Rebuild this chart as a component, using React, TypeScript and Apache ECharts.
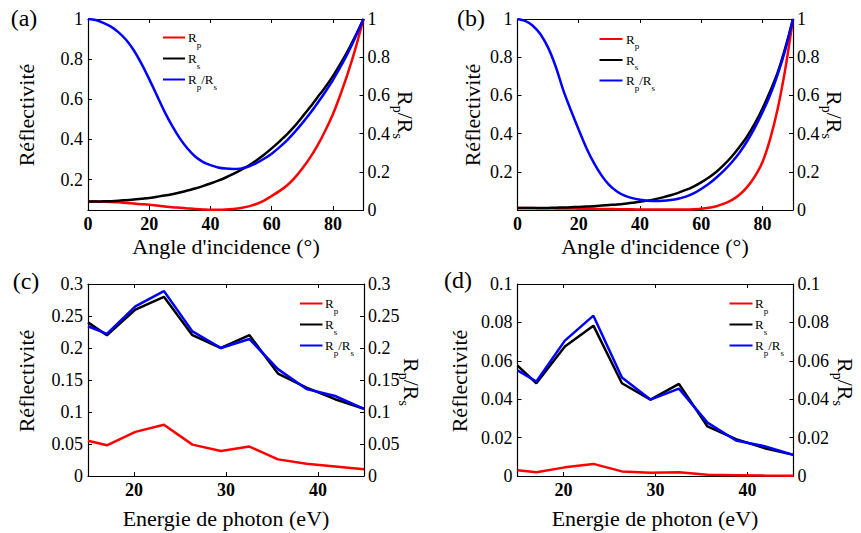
import React, { useEffect, useRef } from 'react';
import * as echarts from 'echarts';

// ---------- data ----------
const angles = [0, 2.5, 5, 7.5, 10, 12.5, 15, 17.5, 20, 22.5, 25, 27.5, 30, 32.5, 35, 37.5, 40, 42.5, 45, 47.5, 50, 52.5, 55, 57.5, 60, 62.5, 65, 67.5, 70, 72.5, 75, 77.5, 80, 82.5, 85, 87.5, 90];
// panel (a)
const rpA = [0.09, 0.09, 0.089, 0.088, 0.086, 0.083, 0.08, 0.077, 0.074, 0.07, 0.066, 0.062, 0.059, 0.056, 0.053, 0.051, 0.049, 0.049, 0.05, 0.053, 0.058, 0.066, 0.078, 0.095, 0.118, 0.142, 0.17, 0.208, 0.255, 0.308, 0.37, 0.443, 0.525, 0.625, 0.735, 0.86, 1.0];
const rsA = [0.09, 0.09, 0.091, 0.092, 0.094, 0.097, 0.1, 0.104, 0.108, 0.114, 0.12, 0.127, 0.135, 0.145, 0.155, 0.167, 0.18, 0.194, 0.21, 0.228, 0.248, 0.27, 0.295, 0.323, 0.355, 0.389, 0.425, 0.466, 0.512, 0.56, 0.61, 0.66, 0.715, 0.777, 0.845, 0.92, 1.0];
const ratioA = [1.0, 0.995, 0.98, 0.96, 0.93, 0.89, 0.835, 0.765, 0.685, 0.6, 0.515, 0.44, 0.375, 0.322, 0.28, 0.252, 0.235, 0.223, 0.217, 0.215, 0.218, 0.228, 0.245, 0.268, 0.295, 0.328, 0.365, 0.408, 0.455, 0.505, 0.56, 0.618, 0.68, 0.75, 0.825, 0.91, 1.0];
// panel (b)
const rpB = [0.01, 0.01, 0.01, 0.0095, 0.009, 0.0085, 0.008, 0.0075, 0.007, 0.0065, 0.006, 0.0055, 0.005, 0.0045, 0.004, 0.0035, 0.003, 0.0025, 0.002, 0.002, 0.002, 0.0025, 0.003, 0.0045, 0.007, 0.012, 0.02, 0.033, 0.052, 0.08, 0.12, 0.175, 0.25, 0.37, 0.53, 0.74, 1.0];
const rsB = [0.01, 0.01, 0.01, 0.0105, 0.011, 0.012, 0.013, 0.0145, 0.016, 0.018, 0.02, 0.023, 0.026, 0.029, 0.033, 0.038, 0.043, 0.049, 0.057, 0.066, 0.077, 0.09, 0.105, 0.123, 0.145, 0.17, 0.2, 0.237, 0.28, 0.33, 0.385, 0.452, 0.53, 0.62, 0.72, 0.85, 1.0];
const ratioB = [1.0, 0.99, 0.965, 0.92, 0.85, 0.75, 0.625, 0.52, 0.42, 0.325, 0.245, 0.18, 0.13, 0.097, 0.075, 0.062, 0.054, 0.049, 0.047, 0.048, 0.052, 0.059, 0.07, 0.087, 0.11, 0.137, 0.17, 0.207, 0.25, 0.3, 0.36, 0.43, 0.51, 0.6, 0.71, 0.84, 1.0];
// panels (c) and (d)
const energies = [15, 17.05, 20.15, 23.25, 26.35, 29.45, 32.55, 35.65, 38.75, 41.85, 45];
const rpC = [0.055, 0.048, 0.069, 0.08, 0.049, 0.039, 0.046, 0.026, 0.019, 0.015, 0.0105];
const rsC = [0.24, 0.22, 0.26, 0.28, 0.22, 0.2, 0.22, 0.16, 0.138, 0.12, 0.105];
const ratioC = [0.234, 0.222, 0.265, 0.289, 0.226, 0.2, 0.214, 0.167, 0.136, 0.125, 0.105];
const rpD = [0.003, 0.002, 0.0045, 0.0063, 0.0024, 0.0017, 0.0019, 0.0006, 0.0004, 0.0002, 0.0001];
const rsD = [0.0575, 0.0483, 0.0675, 0.0783, 0.0483, 0.0398, 0.048, 0.0258, 0.0192, 0.0145, 0.011];
const ratioD = [0.055, 0.0492, 0.0705, 0.0835, 0.0513, 0.0398, 0.0455, 0.0278, 0.0185, 0.0155, 0.011];

const angleTicks = [0, 20, 40, 60, 80];
const energyTicks = [20, 30, 40];
const leftTicksAB = [0.2, 0.4, 0.6, 0.8, 1];

const panelLabels = ['(a)', '(b)', '(c)', '(d)'];
const xTitles = ["Angle d'incidence (°)", "Angle d'incidence (°)", 'Energie de photon (eV)', 'Energie de photon (eV)'];
const yTitle = 'Réflectivité';

const FONT = "'Liberation Serif', 'Times New Roman', Times, 'DejaVu Serif', serif";
const RED = '#ff0000';
const BLACK = '#000000';
const BLUE = '#0000ff';

const pair = (xs: number[], ys: number[]) => xs.map((x, i) => [x, ys[i]]);

const CW: Record<string, number> = { R: 0.667, p: 0.5, s: 0.389, '/': 0.278 };

function subText(parts: [string, boolean][], size: number, subSize: number, subDy: number) {
  const children: any[] = [];
  let x = 0;
  parts.forEach(([str, sub]) => {
    const fs = sub ? subSize : size;
    children.push({
      type: 'text',
      x,
      y: sub ? subDy : 0,
      style: { text: str, fontSize: fs, fontFamily: FONT, fill: '#000', textAlign: 'left', textVerticalAlign: 'middle' },
    });
    for (const ch of str) x += (CW[ch] ?? 0.5) * fs;
  });
  return { children, width: x };
}

const RPRS: [string, boolean][] = [['R', false], ['p', true], ['/R', false], ['s', true]];
const RP: [string, boolean][] = [['R', false], ['p', true]];
const RS: [string, boolean][] = [['R', false], ['s', true]];

function rightTitle(cx: number, cy: number) {
  const t = subText(RPRS, 22, 14, 8);
  return {
    type: 'group',
    x: cx,
    y: cy,
    rotation: -Math.PI / 2,
    children: [{ type: 'group', x: -t.width / 2, y: 0, children: t.children }],
  };
}

function legend(lx0: number, lx1: number, tx: number, ys: number[]) {
  const els: any[] = [];
  const items: [string, [string, boolean][]][] = [[RED, RP], [BLACK, RS], [BLUE, RPRS]];
  items.forEach(([c, parts], i) => {
    els.push({ type: 'line', shape: { x1: lx0, y1: ys[i], x2: lx1, y2: ys[i] }, style: { stroke: c, lineWidth: 2 } });
    const t = subText(parts, 13, 9, 7);
    els.push({ type: 'group', x: tx, y: ys[i], children: t.children });
  });
  return els;
}

const grids = [
  { left: 88, top: 19, width: 275.5, height: 191 },
  { left: 517.5, top: 19, width: 275.5, height: 191 },
  { left: 88, top: 284, width: 276, height: 192 },
  { left: 517.5, top: 284, width: 276, height: 192 },
];

export default function App() {
  const ref = useRef<HTMLDivElement>(null);
  useEffect(() => {
    if (!ref.current) return;
    const chart = echarts.init(ref.current, undefined, { renderer: 'svg' });

    const axisLine = { show: true, onZero: false, lineStyle: { color: '#000', width: 1.2 } };
    const labelBase = { color: '#000', fontSize: 18, fontFamily: FONT };

    const xCfg = [
      { min: 0, max: 90, ticks: angleTicks },
      { min: 0, max: 90, ticks: angleTicks },
      { min: 15, max: 45, ticks: energyTicks },
      { min: 15, max: 45, ticks: energyTicks },
    ];
    const xAxis: any[] = [];
    xCfg.forEach((c, i) => {
      xAxis.push({
        type: 'value', gridIndex: i, min: c.min, max: c.max, position: 'bottom',
        axisLine, splitLine: { show: false },
        axisTick: { show: true, inside: true, length: 4, customValues: c.ticks, lineStyle: { color: '#000' } },
        axisLabel: { ...labelBase, fontWeight: 'bold', margin: 5, customValues: c.ticks },
      });
      xAxis.push({
        type: 'value', gridIndex: i, min: c.min, max: c.max, position: 'top',
        axisLine, splitLine: { show: false },
        axisTick: { show: true, inside: true, length: 4, customValues: c.ticks, lineStyle: { color: '#000' } },
        axisLabel: { show: false },
      });
    });

    const yAxis: any[] = [];
    const yLeft = [
      { min: 0.048, max: 1, custom: leftTicksAB },
      { min: 0, max: 1, custom: leftTicksAB },
      { min: 0, max: 0.3, interval: 0.05 },
      { min: 0, max: 0.1, interval: 0.02 },
    ];
    const yRight = [
      { min: 0, max: 1, interval: 0.2 },
      { min: 0, max: 1, interval: 0.2 },
      { min: 0, max: 0.3, interval: 0.05 },
      { min: 0, max: 0.1, interval: 0.02 },
    ];
    yLeft.forEach((c: any, i) => {
      yAxis.push({
        type: 'value', gridIndex: i, position: 'left', min: c.min, max: c.max,
        ...(c.interval ? { interval: c.interval } : {}),
        axisLine, splitLine: { show: false },
        axisTick: { show: true, inside: true, length: 4, lineStyle: { color: '#000' }, ...(c.custom ? { customValues: c.custom } : {}) },
        axisLabel: { ...labelBase, margin: 5, ...(c.custom ? { customValues: c.custom } : {}) },
      });
      const r = yRight[i];
      yAxis.push({
        type: 'value', gridIndex: i, position: 'right', min: r.min, max: r.max, interval: r.interval,
        axisLine, splitLine: { show: false },
        axisTick: { show: true, inside: true, length: 4, lineStyle: { color: '#000' } },
        axisLabel: { ...labelBase, margin: 4 },
      });
    });

    const sets = [
      { xs: angles, rp: rpA, rs: rsA, ratio: ratioA, smooth: 0.3 },
      { xs: angles, rp: rpB, rs: rsB, ratio: ratioB, smooth: 0.3 },
      { xs: energies, rp: rpC, rs: rsC, ratio: ratioC, smooth: false },
      { xs: energies, rp: rpD, rs: rsD, ratio: ratioD, smooth: false },
    ];
    const series: any[] = [];
    sets.forEach((s, i) => {
      const base = { type: 'line', xAxisIndex: 2 * i, showSymbol: false, symbol: 'none', smooth: s.smooth };
      series.push({ ...base, name: 'Rp', yAxisIndex: 2 * i, data: pair(s.xs, s.rp), lineStyle: { color: RED, width: 2.5 } });
      series.push({ ...base, name: 'Rs', yAxisIndex: 2 * i, data: pair(s.xs, s.rs), lineStyle: { color: BLACK, width: 2.5 } });
      series.push({ ...base, name: 'Rp/Rs', yAxisIndex: 2 * i + 1, data: pair(s.xs, s.ratio), lineStyle: { color: BLUE, width: 2.5 } });
    });

    const graphic: any[] = [];
    const labelPos = [[24, 18], [471, 18], [26, 281], [458, 280]];
    labelPos.forEach(([x, y], i) => {
      graphic.push({ type: 'text', x, y, style: { text: panelLabels[i], fontSize: 24, fontFamily: FONT, fill: '#000', textAlign: 'center', textVerticalAlign: 'middle' } });
    });
    const yTitlePos = [[26, 115], [472, 115], [26, 381], [459, 381]];
    yTitlePos.forEach(([x, y]) => {
      graphic.push({ type: 'text', x, y, rotation: Math.PI / 2, style: { text: yTitle, fontSize: 22, fontFamily: FONT, fill: '#000', textAlign: 'center', textVerticalAlign: 'middle' } });
    });
    const xTitlePos = [[226, 246], [655, 246], [226, 518], [655, 518]];
    xTitlePos.forEach(([x, y], i) => {
      graphic.push({ type: 'text', x, y, style: { text: xTitles[i], fontSize: 22, fontFamily: FONT, fill: '#000', textAlign: 'center', textVerticalAlign: 'middle' } });
    });
    [[405, 115], [834, 115], [411, 382], [845, 382]].forEach(([x, y]) => graphic.push(rightTitle(x, y)));
    graphic.push(...legend(163, 185, 188, [37.5, 58.5, 79.5]));
    graphic.push(...legend(599.5, 622.5, 626, [39, 60, 80.5]));
    graphic.push(...legend(300, 322.5, 325, [303.5, 324.5, 345.5]));
    graphic.push(...legend(729.5, 752.5, 755, [303.5, 324.5, 345.5]));

    chart.setOption({
      animation: false,
      backgroundColor: '#fff',
      textStyle: { fontFamily: FONT },
      grid: grids.map((g) => ({ ...g, containLabel: false })),
      xAxis,
      yAxis,
      series,
      graphic,
    });
    return () => chart.dispose();
  }, []);
  return <div ref={ref} style={{ position: 'absolute', left: 0, top: 0, width: 861, height: 533 }} />;
}
